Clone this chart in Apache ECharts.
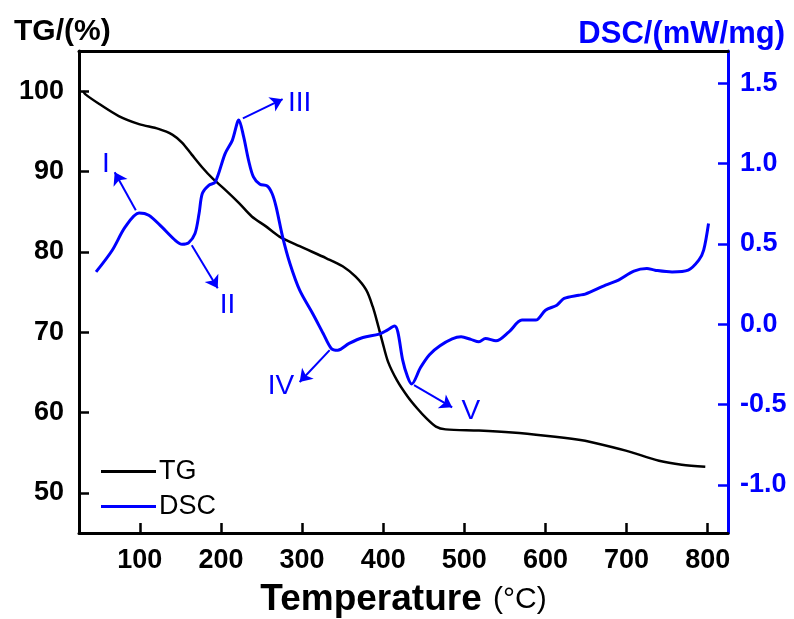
<!DOCTYPE html>
<html>
<head>
<meta charset="utf-8">
<script src="https://cdn.jsdelivr.net/npm/echarts@6/dist/echarts.min.js"></script>
<style>
  html, body { margin: 0; padding: 0; background: #fff; }
  #chart { width: 794px; height: 619px; }
</style>
</head>
<body>
<div id="chart"></div>
<script>
  // TG curve (temperature °C, mass %)
  var tgTemp = [30, 33, 50, 74, 99, 123, 140, 152, 164, 177, 189, 205, 222, 238, 255, 272, 297, 330, 350, 366, 379, 387, 393, 399, 406, 417, 430, 442, 453, 465, 477, 518, 559, 600, 641, 657, 699, 740, 768, 797];
  var tgValue = [100, 99.6, 98.4, 96.9, 95.9, 95.3, 94.6, 93.6, 92.1, 90.5, 89.2, 87.75, 86.1, 84.4, 83.2, 81.9, 80.7, 79.2, 78.2, 76.9, 75.25, 73.2, 71.1, 68.8, 66.3, 64.0, 62.0, 60.5, 59.3, 58.25, 57.9, 57.75, 57.5, 57.1, 56.6, 56.3, 55.25, 54.0, 53.5, 53.25];

  // DSC curve (temperature °C, mW/mg)
  var dscTemp = [46, 66, 82, 99, 111, 127, 144, 152, 160, 168, 173, 177, 185, 193, 205, 214, 222, 228, 234, 240, 248, 257, 263, 268, 276, 285, 297, 313, 326, 336, 344, 358, 375, 395, 405, 414, 418, 424, 430, 435, 446, 457, 470, 485, 496, 508, 518, 526, 539, 555, 571, 588, 600, 614, 623, 641, 649, 674, 690, 709, 725, 735, 756, 776, 789, 795, 801];
  var dscValue = [0.325, 0.46, 0.605, 0.692, 0.678, 0.605, 0.52, 0.497, 0.506, 0.564, 0.688, 0.813, 0.864, 0.885, 1.06, 1.144, 1.27, 1.165, 1.02, 0.916, 0.87, 0.86, 0.813, 0.73, 0.543, 0.377, 0.211, 0.066, -0.058, -0.151, -0.162, -0.12, -0.083, -0.062, -0.037, -0.012, -0.048, -0.224, -0.328, -0.373, -0.27, -0.19, -0.135, -0.092, -0.079, -0.095, -0.11, -0.089, -0.104, -0.048, 0.025, 0.025, 0.087, 0.118, 0.16, 0.18, 0.187, 0.243, 0.274, 0.33, 0.346, 0.336, 0.325, 0.336, 0.398, 0.46, 0.626];

  // tick labels
  var xTicks = [100, 200, 300, 400, 500, 600, 700, 800];
  var tgTicks = [50, 60, 70, 80, 90, 100];
  var dscTicks = [-1.0, -0.5, 0.0, 0.5, 1.0, 1.5];

  // peak annotations on the DSC curve: label, label position, arrow start, arrow end
  var peakNames = ["I", "II", "III", "IV", "V"];
  var peakLabelAt = [[58, 0.995], [208, 0.118], [297, 1.374], [274, -0.386], [508, -0.541]];
  var arrowFrom = [[95, 0.709], [164, 0.491], [227, 1.281], [334, -0.162], [438, -0.379]];
  var arrowTo = [[69, 0.945], [196, 0.224], [276, 1.40], [297, -0.36], [485, -0.518]];

  var FONT = "Arial, 'Liberation Sans', sans-serif";
  var BLUE = "#0000ff";

  function zip(xs, ys) {
    return xs.map(function (x, i) { return [x, ys[i]]; });
  }

  var chart = echarts.init(document.getElementById("chart"), null, { renderer: "canvas" });

  chart.setOption({
    animation: false,
    backgroundColor: "#ffffff",
    textStyle: { fontFamily: FONT },
    title: [
      {
        text: "TG/(%)",
        left: 9, top: 12,
        textStyle: { fontFamily: FONT, fontSize: 30, fontWeight: "bold", color: "#000" }
      },
      {
        text: "DSC/(mW/mg)",
        right: 4, top: 14,
        textStyle: { fontFamily: FONT, fontSize: 31, fontWeight: "bold", color: BLUE }
      }
    ],
    legend: {
      data: ["TG", "DSC"],
      orient: "vertical",
      left: 96, top: 452,
      icon: "rect",
      itemWidth: 55, itemHeight: 3,
      itemGap: 6,
      textStyle: { fontFamily: FONT, fontSize: 27, lineHeight: 29, color: "#000", padding: [0, 0, 0, -2] }
    },
    grid: { left: 79, right: 66, top: 51, bottom: 86, containLabel: false, outerBoundsMode: "none" },
    xAxis: [
      {
        type: "value",
        min: 25, max: 825,
        name: "{b|Temperature} {n|(°C)}",
        nameLocation: "middle",
        nameGap: 48,
        nameTextStyle: {
          rich: {
            b: { fontFamily: FONT, fontSize: 37, fontWeight: "bold", color: "#000" },
            n: { fontFamily: FONT, fontSize: 30, color: "#000", padding: [0, 0, 0, 8] }
          }
        },
        axisLine: { onZero: false, lineStyle: { color: "#000", width: 3 } },
        axisTick: { inside: true, length: 10, lineStyle: { width: 2.5 }, customValues: xTicks },
        axisLabel: {
          customValues: xTicks, margin: 14,
          fontFamily: FONT, fontSize: 27, fontWeight: "bold", color: "#000"
        },
        splitLine: { show: false }
      },
      {
        type: "value",
        position: "top",
        min: 25, max: 825,
        axisLine: { show: true, onZero: false, lineStyle: { color: "#000", width: 3 } },
        axisTick: { show: false },
        axisLabel: { show: false },
        splitLine: { show: false }
      }
    ],
    yAxis: [
      {
        type: "value",
        min: 45, max: 105,
        axisLine: { show: true, onZero: false, lineStyle: { color: "#000", width: 3 } },
        axisTick: { show: true, inside: true, length: 10, lineStyle: { width: 2.5 }, customValues: tgTicks },
        axisLabel: {
          customValues: tgTicks, margin: 15,
          fontFamily: FONT, fontSize: 27, fontWeight: "bold", color: "#000"
        },
        splitLine: { show: false }
      },
      {
        type: "value",
        position: "right",
        min: -1.3, max: 1.7,
        axisLine: { show: true, onZero: false, lineStyle: { color: BLUE, width: 3 } },
        axisTick: { show: true, inside: true, length: 10, lineStyle: { width: 2.5 }, customValues: dscTicks },
        axisLabel: {
          customValues: dscTicks, margin: 12,
          fontFamily: FONT, fontSize: 27, fontWeight: "bold", color: BLUE,
          formatter: function (v) { return v.toFixed(1); }
        },
        splitLine: { show: false }
      }
    ],
    series: [
      {
        name: "TG",
        type: "line",
        xAxisIndex: 0, yAxisIndex: 0,
        data: zip(tgTemp, tgValue),
        smooth: 0.3,
        symbol: "none",
        lineStyle: { color: "#000", width: 2.5 },
        itemStyle: { color: "#000" }
      },
      {
        name: "DSC",
        type: "line",
        xAxisIndex: 0, yAxisIndex: 1,
        data: zip(dscTemp, dscValue),
        smooth: 0.3,
        symbol: "none",
        lineStyle: { color: BLUE, width: 3 },
        itemStyle: { color: BLUE },
        markLine: {
          silent: true,
          symbol: ["none", "arrow"],
          symbolSize: 12,
          lineStyle: { color: BLUE, width: 2, type: "solid" },
          label: { show: false },
          data: arrowFrom.map(function (p, i) {
            return [{ coord: p }, { coord: arrowTo[i] }];
          })
        },
        markPoint: {
          silent: true,
          symbol: "circle",
          symbolSize: 1,
          itemStyle: { color: "rgba(0,0,0,0)" },
          label: {
            show: true, position: "inside", formatter: "{b}",
            fontFamily: FONT, fontSize: 28, color: BLUE
          },
          data: peakNames.map(function (n, i) {
            return { name: n, coord: peakLabelAt[i] };
          })
        }
      }
    ]
  });
</script>
</body>
</html>
